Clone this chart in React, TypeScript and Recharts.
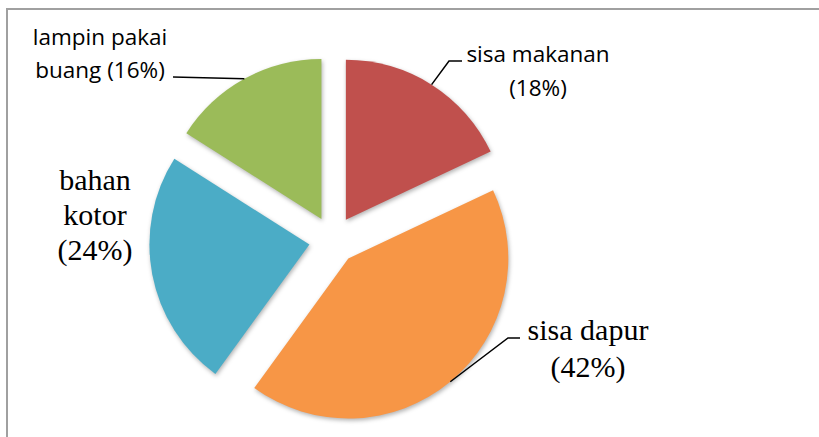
import { PieChart, Pie, Cell } from "recharts";

// Komposisi sampah (%) — slices run clockwise from 12 o'clock
const names = ["sisa makanan", "sisa dapur", "bahan kotor", "lampin pakai buang"];
const percents = [18, 42, 24, 16];
const labelTexts = [
  ["sisa makanan", "(18%)"],
  ["sisa dapur", "(42%)"],
  ["bahan", "kotor", "(24%)"],
  ["lampin pakai", "buang (16%)"],
];

const COLORS = ["#C0504D", "#F79646", "#4BACC6", "#9BBB59"];
const SANS = "'Open Sans', sans-serif";
const SERIF = "'Liberation Serif', 'Times New Roman', serif";

const data = names.map((name, i) => ({ name, value: percents[i] }));
const total = percents.reduce((a, b) => a + b, 0);

const W = 819;
const H = 437;
const CX = 333;
const CY = 240;
const R = 160;
const EXPLODE = 24;
const RAD = Math.PI / 180;

// shift each slice outwards along its own mid angle
function offsetFor(i: number) {
  const before = percents.slice(0, i).reduce((a, b) => a + b, 0);
  const a = ((before + percents[i] / 2) / total) * 2 * Math.PI;
  return { dx: EXPLODE * Math.sin(a), dy: -EXPLODE * Math.cos(a) };
}

type LabelStyle = {
  x: number;
  y: number;
  gap: number;
  font: string;
  size: number;
  leader?: [number, number][];
};

const LABELS: LabelStyle[] = [
  { x: 538, y: 62, gap: 34, font: SANS, size: 22.5, leader: [[449, 61], [462, 61]] },
  { x: 588, y: 340, gap: 37, font: SERIF, size: 30, leader: [[508, 338], [520, 338]] },
  { x: 95, y: 190, gap: 35, font: SERIF, size: 30 },
  { x: 100, y: 45, gap: 33, font: SANS, size: 22.5, leader: [[173, 77]] },
];

function makeLabel(slice: number) {
  // eslint-disable-next-line @typescript-eslint/no-explicit-any
  return (props: any) => {
    if (props.index !== slice) return null;
    const cfg = LABELS[slice];
    const { cx, cy, midAngle, outerRadius } = props;
    const sx = cx + outerRadius * Math.cos(-midAngle * RAD);
    const sy = cy + outerRadius * Math.sin(-midAngle * RAD);
    return (
      <g>
        {cfg.leader && (
          <polyline
            points={[[sx, sy], ...cfg.leader].map((p) => p.join(",")).join(" ")}
            fill="none"
            stroke="#000"
            strokeWidth={1.5}
          />
        )}
        <text
          x={cfg.x}
          y={cfg.y}
          textAnchor="middle"
          fontFamily={cfg.font}
          fontSize={cfg.size}
          fill="#000"
        >
          {labelTexts[slice].map((t, k) => (
            <tspan key={k} x={cfg.x} y={cfg.y + k * cfg.gap}>
              {t}
            </tspan>
          ))}
        </text>
      </g>
    );
  };
}

export default function App() {
  return (
    <div
      style={{
        position: "fixed",
        left: 0,
        top: 0,
        width: W,
        height: H,
        overflow: "hidden",
        background: "#fff",
      }}
    >
      <div
        style={{
          position: "absolute",
          left: 6,
          top: 8,
          width: W + 20,
          height: H + 20,
          border: "2px solid #a0a0a0",
        }}
      />
      <div style={{ position: "absolute", left: 0, top: 0 }}>
        <PieChart width={W} height={H} margin={{ top: 0, right: 0, bottom: 0, left: 0 }}>
          {percents.map((_, i) => {
            const { dx, dy } = offsetFor(i);
            return (
              <Pie
                key={i}
                data={data}
                dataKey="value"
                nameKey="name"
                cx={CX + dx}
                cy={CY + dy}
                outerRadius={R}
                startAngle={90}
                endAngle={-270}
                label={makeLabel(i)}
                labelLine={false}
                isAnimationActive={false}
              >
                {data.map((_, j) => (
                  <Cell
                    key={j}
                    fill={j === i ? COLORS[i] : "transparent"}
                    stroke="none"
                    style={
                      j === i
                        ? { filter: "drop-shadow(1px 2px 2px rgba(0,0,0,0.3))" }
                        : undefined
                    }
                  />
                ))}
              </Pie>
            );
          })}
        </PieChart>
      </div>
    </div>
  );
}
